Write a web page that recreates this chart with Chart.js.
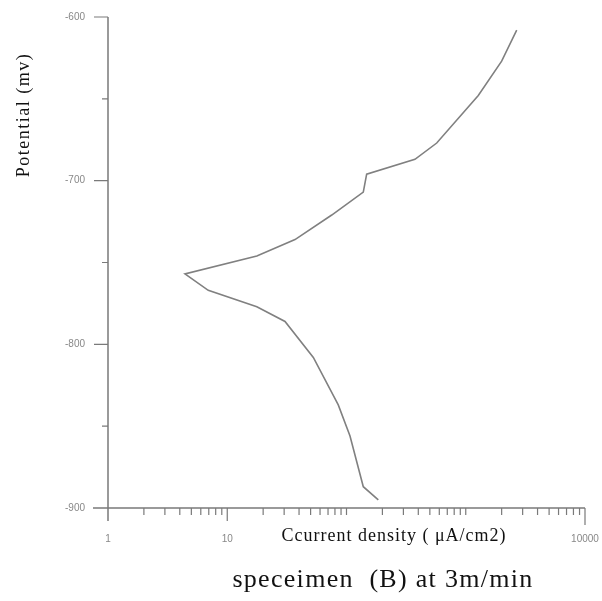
<!DOCTYPE html>
<html>
<head>
<meta charset="utf-8">
<script src="https://cdn.jsdelivr.net/npm/chart.js@4/dist/chart.umd.min.js"></script>
<style>
  html, body { margin: 0; padding: 0; background: #fff; }
  #wrap { position: relative; width: 602px; height: 601px; }
</style>
</head>
<body>
<div id="wrap"><canvas id="tafel"></canvas></div>
<script>
// polarization curve
const currentDensity = [2675, 2000, 1274, 571, 375, 147.6, 138.3, 75.2, 37.0, 17.7, 4.42, 6.93, 17.7, 30.5, 52.7, 85.3, 107, 138.3, 184.8];
const potential = [-608, -627, -648, -677, -687, -696, -707, -721, -736, -746, -757, -767, -777, -786, -808, -837, -856, -887, -895];

const xTickLabels = [1, 10, 10000];
const yTickLabels = [-900, -800, -700, -600];
const yMinorTicks = [-850, -750, -650];

const xTitle = 'Ccurrent density ( \u03bcA/cm2)';
const yTitle = 'Potential (mv)';
const caption = 'speceimen  (B) at 3m/min';

const axisColor = '#7a7a7a';
const serif = '"Liberation Serif", "Times New Roman", serif';

// axes, tick marks and captions drawn by hand (tick lengths differ)
const axesPlugin = {
    id: 'axesPlugin',
    afterDatasetsDraw(chart) {
        const ctx = chart.ctx;
        const xs = chart.scales.x;
        const ys = chart.scales.y;
        const area = chart.chartArea;
        ctx.save();
        ctx.strokeStyle = axisColor;
        ctx.lineWidth = 1.5;

        // axis lines, crossing at bottom-left
        ctx.beginPath();
        ctx.moveTo(area.left - 15, area.bottom);
        ctx.lineTo(area.right, area.bottom);
        ctx.moveTo(area.left, area.top);
        ctx.lineTo(area.left, area.bottom + 13);
        ctx.stroke();

        // x ticks: 1..9 per decade
        ctx.lineWidth = 1.2;
        ctx.beginPath();
        for (let d = 1; d <= 1000; d *= 10) {
            for (let m = 1; m <= 9; m++) {
                const v = m * d;
                if (v === 1) continue;
                const px = xs.getPixelForValue(v);
                const len = (v === 10) ? 13 : 7;
                ctx.moveTo(px, area.bottom);
                ctx.lineTo(px, area.bottom + len);
            }
        }
        const pEnd = xs.getPixelForValue(10000);
        ctx.moveTo(pEnd, area.bottom);
        ctx.lineTo(pEnd, area.bottom + 17);

        // y ticks
        yTickLabels.forEach(v => {
            if (v === -900) return;
            const py = ys.getPixelForValue(v);
            ctx.moveTo(area.left - 14, py);
            ctx.lineTo(area.left, py);
        });
        yMinorTicks.forEach(v => {
            const py = ys.getPixelForValue(v);
            ctx.moveTo(area.left - 6, py);
            ctx.lineTo(area.left, py);
        });
        ctx.stroke();

        // titles
        ctx.fillStyle = '#111';
        ctx.textAlign = 'center';
        ctx.textBaseline = 'middle';
        ctx.letterSpacing = '1px';
        ctx.font = '18px ' + serif;
        ctx.fillText(xTitle, 394, 536);

        ctx.letterSpacing = '1.3px';
        ctx.font = '26px ' + serif;
        ctx.fillText(caption, 383, 580);

        ctx.save();
        ctx.translate(24, 115);
        ctx.rotate(-Math.PI / 2);
        ctx.letterSpacing = '1.5px';
        ctx.font = '18px ' + serif;
        ctx.fillText(yTitle, 0, 0);
        ctx.restore();

        ctx.restore();
    }
};

const chart = new Chart(document.getElementById('tafel'), {
    type: 'scatter',
    data: {
        datasets: [{
            data: currentDensity.map((c, i) => ({ x: c, y: potential[i] })),
            showLine: true,
            borderColor: '#808080',
            borderWidth: 1.6,
            pointRadius: 0,
            tension: 0,
            fill: false
        }]
    },
    options: {
        responsive: true,
        maintainAspectRatio: false,
        animation: false,
        layout: { padding: { left: 0, top: 17, right: 17, bottom: 53 } },
        plugins: {
            legend: { display: false },
            tooltip: { enabled: false }
        },
        scales: {
            x: {
                type: 'logarithmic',
                min: 1,
                max: 10000,
                border: { display: false },
                grid: { display: false, drawTicks: false },
                afterBuildTicks: scale => {
                    scale.ticks = xTickLabels.map(v => ({ value: v }));
                },
                afterFit: scale => {
                    scale.height = 40;
                    scale.paddingLeft = 0;
                    scale.paddingRight = 0;
                },
                ticks: {
                    autoSkip: false,
                    maxRotation: 0,
                    padding: 25,
                    color: '#888',
                    font: { family: 'Liberation Sans, Arial, sans-serif', size: 10 },
                    callback: v => String(v)
                }
            },
            y: {
                min: -900,
                max: -600,
                border: { display: false },
                grid: { display: false, drawTicks: false },
                afterBuildTicks: scale => {
                    scale.ticks = yTickLabels.map(v => ({ value: v }));
                },
                afterFit: scale => {
                    scale.width = 108;
                    scale.paddingTop = 0;
                    scale.paddingBottom = 0;
                },
                ticks: {
                    autoSkip: false,
                    padding: 23,
                    color: '#888',
                    font: { family: 'Liberation Sans, Arial, sans-serif', size: 10 },
                    callback: v => String(v)
                }
            }
        }
    },
    plugins: [axesPlugin]
});
</script>
</body>
</html>
